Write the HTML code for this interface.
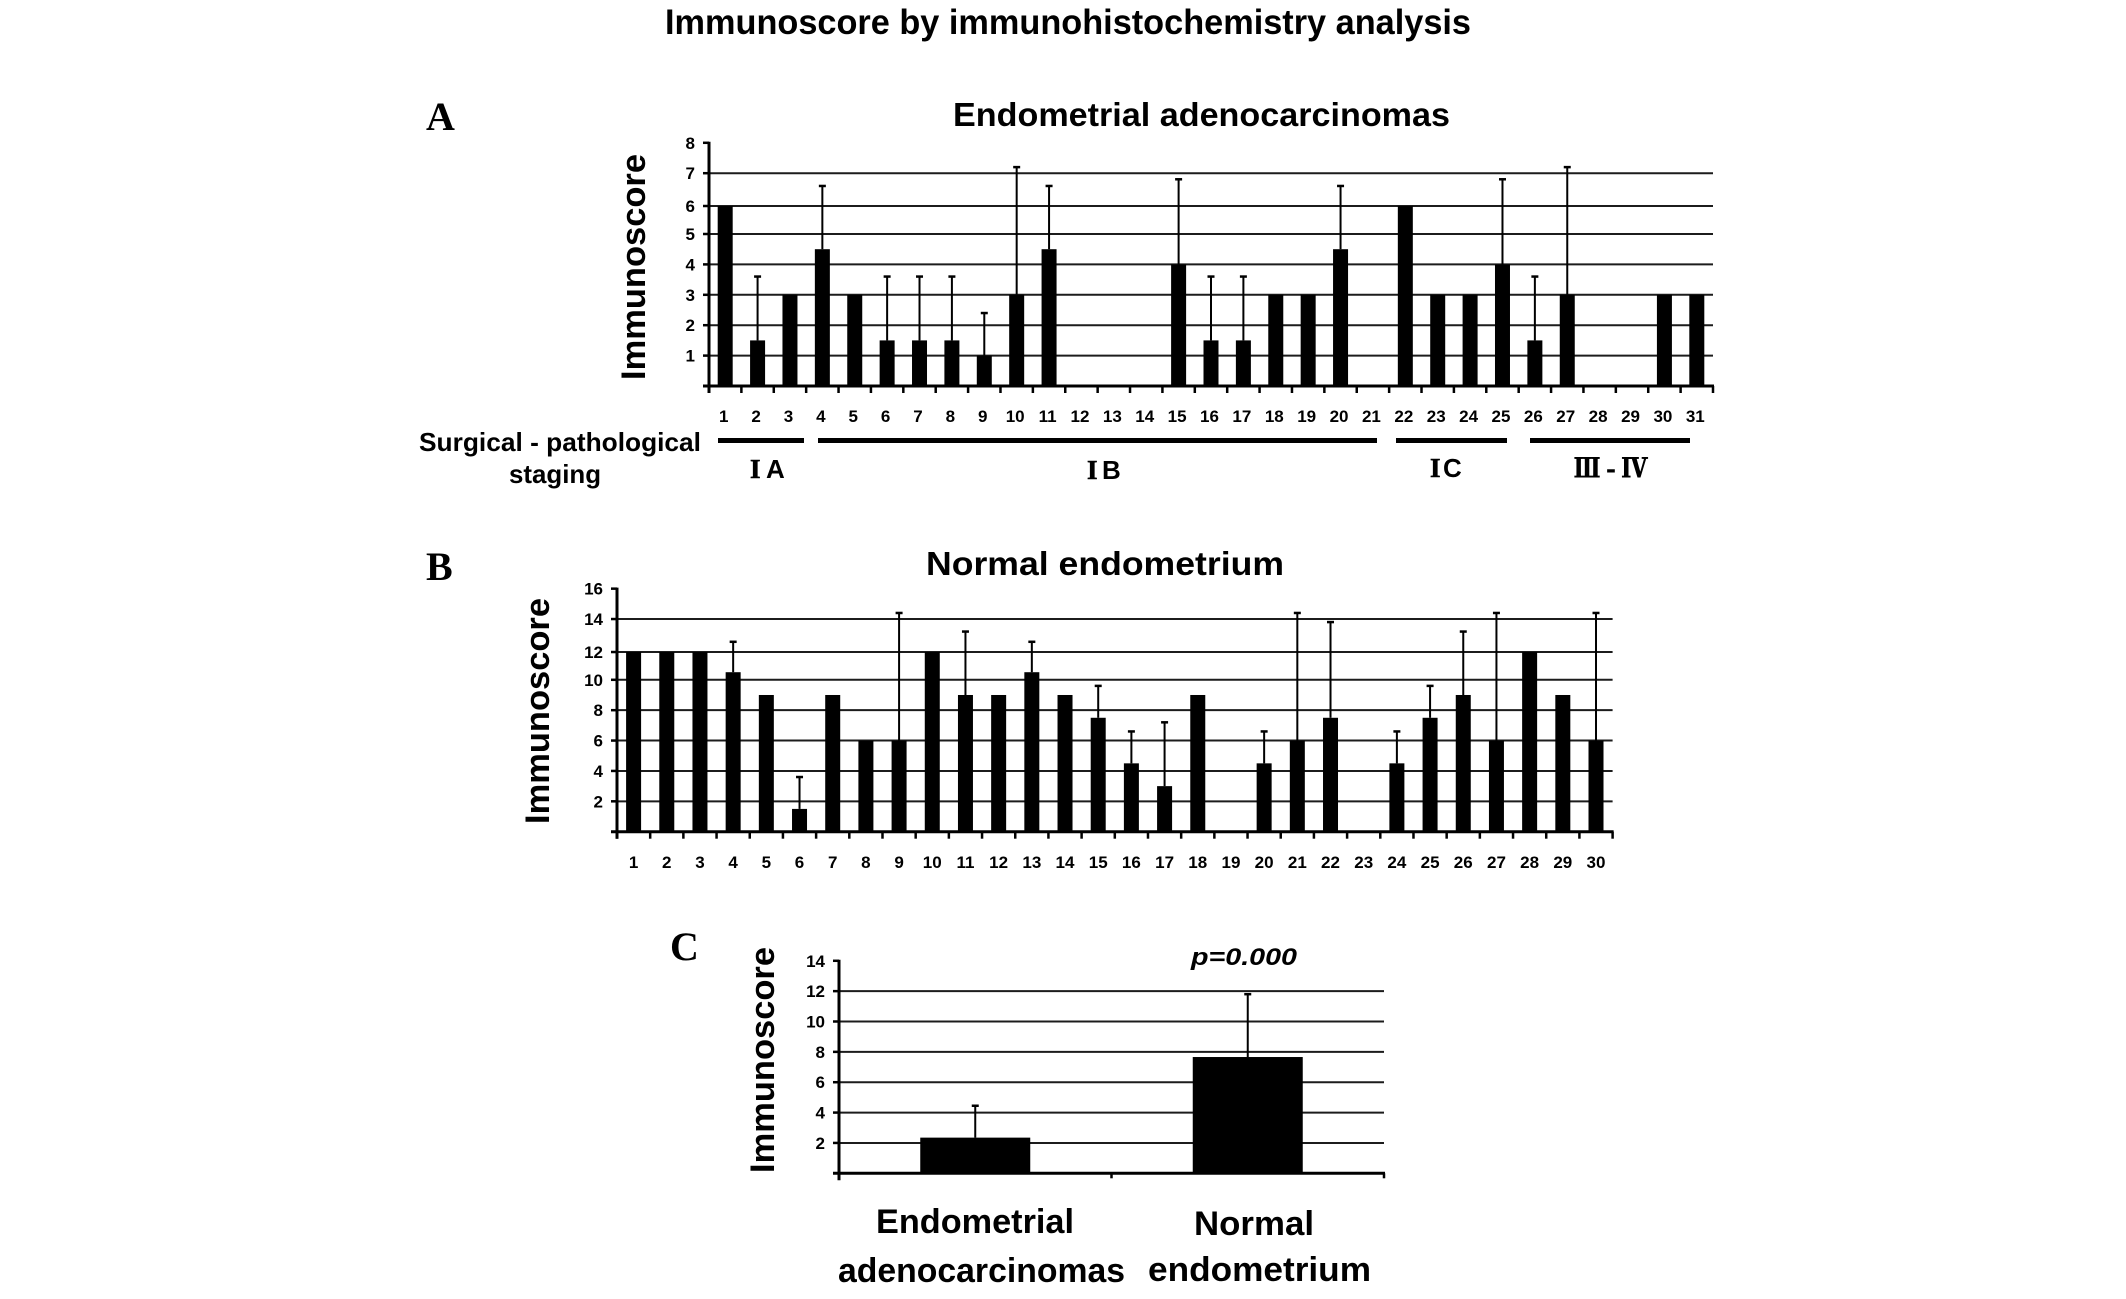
<!DOCTYPE html>
<html lang="en">
<head>
<meta charset="utf-8">
<title>Immunoscore by immunohistochemistry analysis</title>
<style>
html,body{margin:0;padding:0;background:#fff;}
svg{display:block;}
text{font-family:"Liberation Sans","Noto Sans CJK SC",sans-serif;font-weight:bold;fill:#000;}
.serif{font-family:"Liberation Serif","Noto Serif CJK SC",serif;}
</style>
</head>
<body>
<svg id="figure" xmlns="http://www.w3.org/2000/svg" width="2126" height="1299" viewBox="0 0 2126 1299">
<rect x="0" y="0" width="2126" height="1299" fill="#fff"/>
<text x="665" y="34" font-size="35" textLength="806" lengthAdjust="spacingAndGlyphs">Immunoscore by immunohistochemistry analysis</text>

<text class="serif" x="426" y="130" font-size="40">A</text>
<text x="953" y="126" font-size="33" textLength="497" lengthAdjust="spacingAndGlyphs">Endometrial adenocarcinomas</text>
<text transform="translate(645,267) rotate(-90)" text-anchor="middle" font-size="34" textLength="226" lengthAdjust="spacingAndGlyphs">Immunoscore</text>
<text x="419" y="451" font-size="26" textLength="282" lengthAdjust="spacingAndGlyphs">Surgical - pathological</text>
<text x="509" y="483" font-size="26" textLength="92" lengthAdjust="spacingAndGlyphs">staging</text>
<rect x="718" y="438" width="86" height="5" fill="#000"/>
<rect x="818" y="438" width="559" height="5" fill="#000"/>
<rect x="1396" y="438" width="111" height="5" fill="#000"/>
<rect x="1530" y="438" width="160" height="5" fill="#000"/>
<text class="serif" x="750" y="478" font-size="27" stroke="#000" stroke-width="0.6">I</text>
<text x="766" y="478" font-size="26">A</text>
<text class="serif" x="1087" y="479" font-size="27" stroke="#000" stroke-width="0.6">I</text>
<text x="1102" y="479" font-size="26">B</text>
<text class="serif" x="1430" y="477" font-size="27" stroke="#000" stroke-width="0.6">I</text>
<text x="1443" y="477" font-size="26">C</text>
<text class="serif" x="1574" y="477" font-size="26" textLength="74" lengthAdjust="spacingAndGlyphs" stroke="#000" stroke-width="0.9">Ⅲ - Ⅳ</text>

<text class="serif" x="426" y="580" font-size="40">B</text>
<text x="926" y="575" font-size="33" textLength="358" lengthAdjust="spacingAndGlyphs">Normal endometrium</text>
<text transform="translate(549,711) rotate(-90)" text-anchor="middle" font-size="34" textLength="226" lengthAdjust="spacingAndGlyphs">Immunoscore</text>

<text class="serif" x="670" y="960" font-size="40">C</text>
<text transform="translate(774,1060) rotate(-90)" text-anchor="middle" font-size="34" textLength="226" lengthAdjust="spacingAndGlyphs">Immunoscore</text>
<text x="1191" y="965" font-size="24" font-style="italic" textLength="106" lengthAdjust="spacingAndGlyphs">p=0.000</text>
<text x="876" y="1233" font-size="34" textLength="198" lengthAdjust="spacingAndGlyphs">Endometrial</text>
<text x="838" y="1282" font-size="34" textLength="287" lengthAdjust="spacingAndGlyphs">adenocarcinomas</text>
<text x="1194" y="1235" font-size="34" textLength="120" lengthAdjust="spacingAndGlyphs">Normal</text>
<text x="1148" y="1281" font-size="34" textLength="223" lengthAdjust="spacingAndGlyphs">endometrium</text>
</svg>
<script>
const aCategories = [1,2,3,4,5,6,7,8,9,10,11,12,13,14,15,16,17,18,19,20,21,22,23,24,25,26,27,28,29,30,31];
const aValues = [6,1.5,3,4.5,3,1.5,1.5,1.5,1,3,4.5,0,0,0,4,1.5,1.5,3,3,4.5,0,6,3,3,4,1.5,3,0,0,3,3];
const aErrorTops = [null,3.6,null,6.6,null,3.6,3.6,3.6,2.4,7.2,6.6,null,null,null,6.8,3.6,3.6,null,null,6.6,null,null,null,null,6.8,3.6,7.2,null,null,null,null];
const aYTicks = [1,2,3,4,5,6,7,8];

const bCategories = [1,2,3,4,5,6,7,8,9,10,11,12,13,14,15,16,17,18,19,20,21,22,23,24,25,26,27,28,29,30];
const bValues = [12,12,12,10.5,9,1.5,9,6,6,12,9,9,10.5,9,7.5,4.5,3,9,0,4.5,6,7.5,0,4.5,7.5,9,6,12,9,6];
const bErrorTops = [null,null,null,12.6,null,3.6,null,null,14.4,null,13.2,null,12.6,null,9.6,6.6,7.2,null,null,6.6,14.4,13.8,null,6.6,9.6,13.2,14.4,null,null,14.4];
const bYTicks = [2,4,6,8,10,12,14,16];

const cCategories = ['Endometrial adenocarcinomas','Normal endometrium'];
const cValues = [2.35,7.66];
const cErrorTops = [4.45,11.8];
const cYTicks = [2,4,6,8,10,12,14];

const SVG_NS = 'http://www.w3.org/2000/svg';
const figure = document.getElementById('figure');

function addLine(parent, x1, y1, x2, y2, width, color, name) {
  const el = document.createElementNS(SVG_NS, 'line');
  el.setAttribute('x1', x1);
  el.setAttribute('y1', y1);
  el.setAttribute('x2', x2);
  el.setAttribute('y2', y2);
  el.setAttribute('stroke', color);
  el.setAttribute('stroke-width', width);
  
  
  parent.appendChild(el);
}

function addLabel(parent, x, y, anchor, content, name) {
  const el = document.createElementNS(SVG_NS, 'text');
  el.setAttribute('x', x);
  el.setAttribute('y', y);
  el.setAttribute('text-anchor', anchor);
  el.setAttribute('font-size', '17');
  el.textContent = content;
  
  
  parent.appendChild(el);
}

function drawPanel(p) {
  const g = document.createElementNS(SVG_NS, 'g');
  
  
  figure.appendChild(g);

  const unit = p.yPixelsPerUnit;
  const yScale = function (v) {
    // The source axis has one slightly displaced gridline; blend that offset in around its tick.
    const d = Math.abs(v - p.warpTick);
    const warp = d < p.warpSpan ? p.warpOffset * (1 - d / p.warpSpan) : 0;
    return p.y0 - v * unit + warp;
  };
  const step = (p.x1 - p.x0) / p.categories.length;
  const xScale = function (i) { return p.x0 + (i + 0.5) * step; };
  const topTick = p.yTicks[p.yTicks.length - 1];

  p.yTicks.forEach(function (t) {
    if (t !== topTick) {
      addLine(g, p.x0, yScale(t), p.x1, yScale(t), 2, '#1c1c1c', 'gridline');
    }
    addLine(g, p.x0 - 6, yScale(t), p.x0, yScale(t), 2.5, '#000', 'y-tick');
    addLabel(g, p.x0 - p.labelGap, yScale(t) + 6, 'end', String(t), 'y-tick-label');
  });

  p.values.forEach(function (v, i) {
    if (v > 0) {
      const bar = document.createElementNS(SVG_NS, 'rect');
      bar.setAttribute('x', xScale(i) - p.barWidth / 2);
      bar.setAttribute('y', yScale(v));
      bar.setAttribute('width', p.barWidth);
      bar.setAttribute('height', p.y0 - yScale(v));
      bar.setAttribute('fill', '#000');
      
      
      g.appendChild(bar);
    }
    const top = p.errorTops[i];
    if (top !== null) {
      addLine(g, xScale(i), yScale(v), xScale(i), yScale(top), 2, '#000', 'error-bar');
      addLine(g, xScale(i) - 3.5, yScale(top), xScale(i) + 3.5, yScale(top), 2.5, '#000', 'error-cap');
    }
  });

  addLine(g, p.x0, yScale(topTick) - 1, p.x0, p.y0 + 7, 3, '#000', 'y-axis');
  addLine(g, p.x0 - 6, p.y0, p.x1 + 1, p.y0, 3, '#000', 'x-axis');

  for (let i = 0; i <= p.categories.length; i++) {
    addLine(g, p.x0 + i * step, p.y0, p.x0 + i * step, p.y0 + p.tickLength, 2.5, '#000', 'x-tick');
  }
  if (p.showCategoryLabels) {
    p.categories.forEach(function (c, i) {
      addLabel(g, xScale(i) + p.labelShift, p.categoryLabelY, 'middle', String(c), 'x-tick-label');
    });
  }
}

drawPanel({
  name: 'panel-a-chart', categories: aCategories, values: aValues, errorTops: aErrorTops, yTicks: aYTicks,
  x0: 709, x1: 1713, y0: 386, yPixelsPerUnit: 30.4, barWidth: 15, labelGap: 14,
  tickLength: 7, showCategoryLabels: true, categoryLabelY: 422, labelShift: -1.5,
  warpTick: 6, warpOffset: 2.4, warpSpan: 0.8
});
drawPanel({
  name: 'panel-b-chart', categories: bCategories, values: bValues, errorTops: bErrorTops, yTicks: bYTicks,
  x0: 617, x1: 1612.6, y0: 831.7, yPixelsPerUnit: 15.19, barWidth: 15, labelGap: 14,
  tickLength: 7, showCategoryLabels: true, categoryLabelY: 868, labelShift: 0,
  warpTick: 12, warpOffset: 2.6, warpSpan: 1.4
});
drawPanel({
  name: 'panel-c-chart', categories: cCategories, values: cValues, errorTops: cErrorTops, yTicks: cYTicks,
  x0: 839, x1: 1384, y0: 1173.3, yPixelsPerUnit: 15.18, barWidth: 110, labelGap: 14,
  tickLength: 5, showCategoryLabels: false, categoryLabelY: 0, labelShift: 0,
  warpTick: 0, warpOffset: 0, warpSpan: 1
});
</script>
</body>
</html>
